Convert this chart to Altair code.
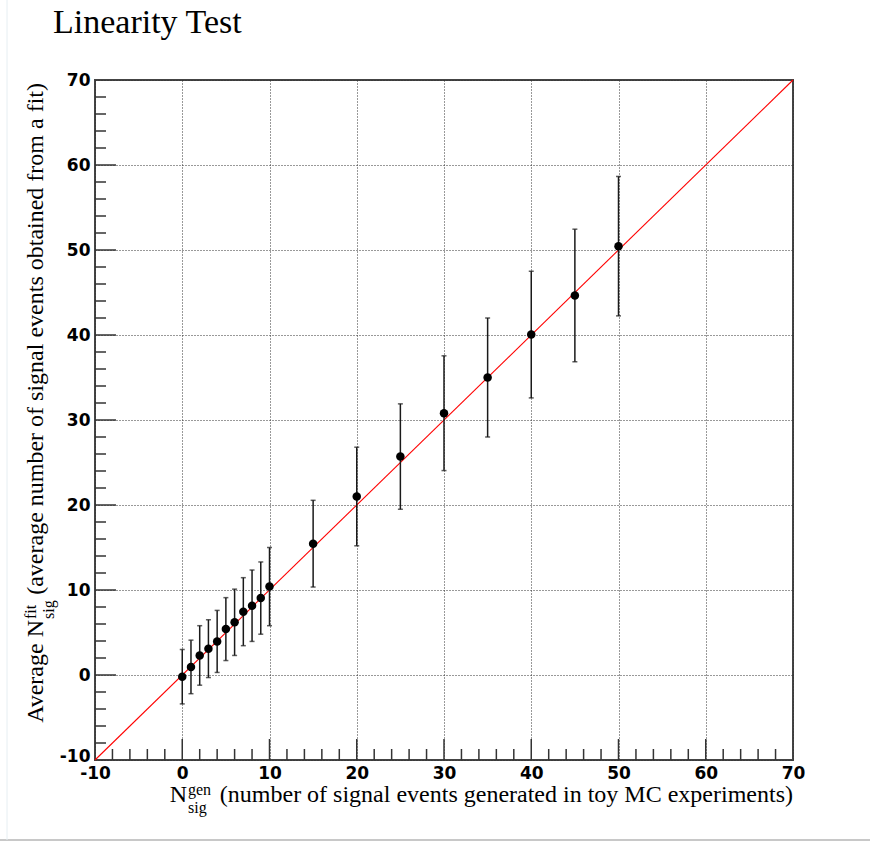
import altair as alt
import pandas as pd

# Generated number of signal events (toy MC) and the average fitted yield
n_gen = [0, 1, 2, 3, 4, 5, 6, 7, 8, 9, 10, 15, 20, 25, 30, 35, 40, 45, 50]
n_fit = [-0.2, 0.95, 2.3, 3.1, 3.95, 5.4, 6.2, 7.45, 8.15, 9.05, 10.4,
         15.45, 21.0, 25.7, 30.8, 35.0, 40.05, 44.65, 50.45]
n_err = [3.2, 3.15, 3.5, 3.4, 3.65, 3.7, 3.9, 4.0, 4.2, 4.25, 4.6,
         5.1, 5.8, 6.2, 6.75, 7.0, 7.45, 7.8, 8.2]

# Ideal response line N_fit = N_gen
ideal_x = [-10, 70]
ideal_y = [-10, 70]

# Axis ticks
major_vals = [-10, 0, 10, 20, 30, 40, 50, 60, 70]
inner_major = [0, 10, 20, 30, 40, 50, 60]
minor_vals = [v for v in range(-10, 71, 2) if v % 10 != 0]

W, H = 698, 680
SERIF = "Liberation Serif"
SANS = "DejaVu Sans"
INK = "#333333"

pts = pd.DataFrame({"gen": n_gen, "fit": n_fit, "err": n_err})
pts["lo"] = pts["fit"] - pts["err"]
pts["hi"] = pts["fit"] + pts["err"]

xscale = alt.Scale(domain=[-10, 70], nice=False, zero=False)
yscale = alt.Scale(domain=[-10, 70], nice=False, zero=False)

axis_common = dict(
    values=major_vals, title=None, ticks=False, domain=False,
    grid=True, gridDash=[1, 2], gridColor="#333333", gridWidth=1,
    labelFont=SANS, labelFontWeight="bold", labelFontSize=17,
    labelColor="black", labelOverlap=False, labelFlush=False,
    # plain hyphen for negative numbers
    labelExpr="datum.value < 0 ? '-' + abs(datum.value) : '' + datum.value",
)
xaxis = alt.Axis(labelPadding=5, **axis_common)
# lift the bottom y label a little so it clears the x label in the corner
yaxis = alt.Axis(labelPadding=5,
                 labelOffset={"condition": {"test": "datum.value == -10", "value": -4}, "value": 0},
                 **axis_common)


def X(field):
    return alt.X(field, scale=xscale, axis=xaxis, title=None)


def Y(field):
    return alt.Y(field, scale=yscale, axis=yaxis, title=None)


# Ideal line
ideal = alt.Chart(pd.DataFrame({"x": ideal_x, "y": ideal_y})).mark_line(
    color="#ff0000", strokeWidth=1.1
).encode(x=X("x:Q"), y=Y("y:Q"))

base = alt.Chart(pts)
bars = base.mark_rule(color="#1a1a1a", strokeWidth=1.5).encode(
    x=X("gen:Q"), y=Y("lo:Q"), y2="hi:Q")
cap_lo = base.mark_tick(color="#1a1a1a", orient="horizontal", size=5, thickness=1.5).encode(
    x=X("gen:Q"), y=Y("lo:Q"))
cap_hi = base.mark_tick(color="#1a1a1a", orient="horizontal", size=5, thickness=1.5).encode(
    x=X("gen:Q"), y=Y("hi:Q"))
dots = base.mark_circle(color="black", opacity=1, size=72).encode(
    x=X("gen:Q"), y=Y("fit:Q"))

# Inward ticks on the bottom and left frame edges
xmaj = alt.Chart(pd.DataFrame({"v": inner_major})).mark_rule(color=INK, strokeWidth=1.5).encode(
    x=X("v:Q"), y=alt.value(H), y2=alt.value(H - 21))
xmin = alt.Chart(pd.DataFrame({"v": minor_vals})).mark_rule(color=INK, strokeWidth=1.5).encode(
    x=X("v:Q"), y=alt.value(H), y2=alt.value(H - 11))
ymaj = alt.Chart(pd.DataFrame({"v": inner_major})).mark_rule(color=INK, strokeWidth=1.5).encode(
    y=Y("v:Q"), x=alt.value(0), x2=alt.value(21))
ymin = alt.Chart(pd.DataFrame({"v": minor_vals})).mark_rule(color=INK, strokeWidth=1.5).encode(
    y=Y("v:Q"), x=alt.value(0), x2=alt.value(11))


def label(text, x, y, size, align="left", angle=0, font=SERIF):
    kw = dict(font=font, fontSize=size, align=align, baseline="alphabetic", color="black")
    if angle:
        kw["angle"] = angle
    return alt.Chart(pd.DataFrame({"t": [text]})).mark_text(**kw).encode(
        text="t:N", x=alt.value(x), y=alt.value(y))


# Offsets of the plot area inside the canvas
L, T = 95, 80

title = label("Linearity Test", 53 - L, 33 - T, 34)

# x-axis title: N^{gen}_{sig} (...)
xt_main = label("(number of signal events generated in toy MC experiments)", 793 - L, 802 - T, 24, align="right")
xt_n = label("N", 187 - L, 802 - T, 24, align="right")
xt_sup = label("gen", 188 - L, 795 - T, 16)
xt_sub = label("sig", 188 - L, 813 - T, 16)

# y-axis title, rotated: Average N^{fit}_{sig} (...)
yt_main = label("(average number of signal events obtained from a fit)", 43 - L, 83 - T, 24, align="right", angle=270)
yt_n = label("Average N", 43 - L, 620 - T, 24, align="right", angle=270)
yt_sup = label("fit", 36 - L, 619 - T, 16, angle=270)
yt_sub = label("sig", 54 - L, 619 - T, 16, angle=270)

# Canvas edge lines
edge_b = alt.Chart(pd.DataFrame({"k": [0]})).mark_rule(color="#c8c8c8", strokeWidth=2).encode(
    x=alt.value(-L), x2=alt.value(870 - L), y=alt.value(840 - T))
edge_l = alt.Chart(pd.DataFrame({"k": [0]})).mark_rule(color="#e6eef2", strokeWidth=1).encode(
    x=alt.value(7 - L), y=alt.value(-T), y2=alt.value(840 - T))

chart = alt.layer(
    ideal, bars, cap_lo, cap_hi, dots,
    xmaj, xmin, ymaj, ymin,
    title, xt_main, xt_n, xt_sup, xt_sub,
    yt_main, yt_n, yt_sup, yt_sub,
    edge_b, edge_l,
).properties(
    width=W, height=H,
    background="white",
    autosize=alt.AutoSizeParams(type="none"),
    padding={"left": L, "top": T, "right": 870 - L - W, "bottom": 843 - T - H},
).configure_view(
    stroke="#444444", strokeWidth=2
)

chart.save("out.html", embed_options={"renderer": "svg", "actions": False})
